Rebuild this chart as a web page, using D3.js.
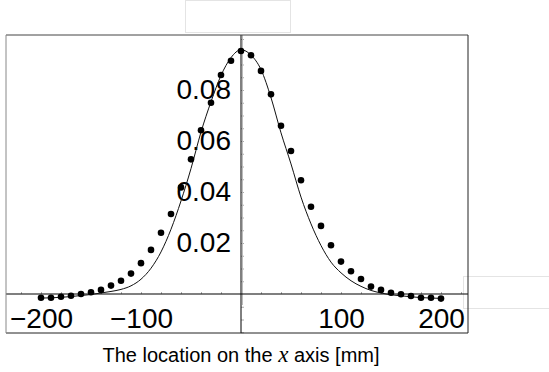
<!DOCTYPE html>
<html>
<head>
<meta charset="utf-8">
<script src="https://cdn.jsdelivr.net/npm/d3@7"></script>
<style>
  body { margin: 0; background: #fff; }
  svg { display: block; font-family: "Liberation Sans", Arial, sans-serif; }
</style>
</head>
<body>
<svg id="chart" width="549" height="372"></svg>
<script>
// location on the x axis [mm], one sample every 10 mm
var positions = [-200, -190, -180, -170, -160, -150, -140, -130, -120, -110,
                 -100, -90, -80, -70, -60, -50, -40, -30, -20, -10,
                 0, 10, 20, 30, 40, 50, 60, 70, 80, 90,
                 100, 110, 120, 130, 140, 150, 160, 170, 180, 190, 200]

// measured points (dots)
var measured = [-0.00145, -0.00145, -0.0011, -0.0007, 0.0, 0.0007, 0.0016, 0.0033, 0.0052, 0.0080,
                0.0121, 0.0173, 0.0240, 0.0314, 0.0418, 0.0528, 0.0642, 0.0750, 0.0859, 0.0915,
                0.0953, 0.0936, 0.0875, 0.0783, 0.0660, 0.0561, 0.0446, 0.0342, 0.0267, 0.0191,
                0.0127, 0.0089, 0.0059, 0.0029, 0.0016, 0.0005, -0.0001, -0.0008, -0.00145, -0.00145,
                -0.0018]

// fitted curve (solid line), read at the same positions
var fitted = [-0.0016, -0.0015, -0.0013, -0.0010, -0.0006, -0.0002, 0.0004, 0.0010, 0.0018, 0.0032,
              0.0058, 0.0101, 0.0165, 0.0254, 0.0365, 0.0492, 0.0635, 0.0754, 0.0857, 0.0927,
              0.0958, 0.0937, 0.0880, 0.0770, 0.0632, 0.0510, 0.0380, 0.0275, 0.0190, 0.0125,
              0.0083, 0.0052, 0.0030, 0.0014, 0.0004, -0.0003, -0.0007, -0.0011, -0.0014, -0.0016,
              -0.0017]

var xLabels = [-200, -100, 100, 200]
var yLabels = [0.02, 0.04, 0.06, 0.08]
var xMinor = [-220, -200, -180, -160, -140, -120, -100, -80, -60, -40, -20,
              20, 40, 60, 80, 100, 120, 140, 160, 180, 200, 220]
var yMinor = [-0.015, -0.01, -0.005, 0.005, 0.01, 0.015, 0.02, 0.025, 0.03, 0.035, 0.04, 0.045,
              0.05, 0.055, 0.06, 0.065, 0.07, 0.075, 0.08, 0.085, 0.09, 0.095, 0.1]

var axisTitle = 'The location on the '
var axisTitleVar = 'x'
var axisTitleEnd = ' axis [mm]'

var svg = d3.select('#chart')

var frame = { left: 6, right: 468, top: 35, bottom: 333 }

var x = d3.scaleLinear().domain([-235, 227]).range([frame.left, frame.right])
var y = d3.scaleLinear().domain([0, 0.1]).range([294, 39])

// faint empty boxes around the plot
svg.append('rect').attr('x', 185.5).attr('y', 0.5).attr('width', 105).attr('height', 32)
  .attr('fill', 'none').attr('stroke', '#e4e4e4')
svg.append('rect').attr('x', 463.5).attr('y', 276.5).attr('width', 90).attr('height', 32)
  .attr('fill', 'none').attr('stroke', '#e4e4e4')

svg.append('clipPath').attr('id', 'clip').append('rect')
  .attr('x', frame.left).attr('y', frame.top)
  .attr('width', frame.right - frame.left).attr('height', frame.bottom - frame.top)

// minor ticks
svg.append('g').attr('transform', 'translate(0,' + y(0) + ')')
  .call(d3.axisTop(x).tickValues(xMinor).tickSize(2).tickFormat(''))
  .call(function (g) { g.select('.domain').remove() })
  .selectAll('line').attr('stroke', '#aaa')

svg.append('g').attr('transform', 'translate(' + x(0) + ',0)')
  .call(d3.axisRight(y).tickValues(yMinor).tickSize(3).tickFormat(''))
  .call(function (g) { g.select('.domain').remove() })
  .selectAll('line').attr('stroke', '#aaa')

// axis lines
svg.append('line').attr('x1', x(0) + 1.5).attr('x2', x(0) + 1.5)
  .attr('y1', frame.top).attr('y2', 305).attr('stroke', '#bbb').attr('stroke-width', 1)
svg.append('line').attr('x1', x(0)).attr('x2', x(0))
  .attr('y1', frame.top).attr('y2', frame.bottom).attr('stroke', '#000').attr('stroke-width', 1)
svg.append('line').attr('x1', frame.left).attr('x2', frame.right)
  .attr('y1', y(0)).attr('y2', y(0)).attr('stroke', '#000').attr('stroke-width', 1.2)

// tick labels
svg.append('g').attr('transform', 'translate(0,' + y(0) + ')')
  .call(d3.axisBottom(x).tickValues(xLabels).tickSize(0).tickPadding(14)
    .tickFormat(function (d) { return d < 0 ? '\u2212' + Math.abs(d) : String(d) }))
  .call(function (g) { g.select('.domain').remove() })
  .selectAll('text')
    .attr('font-size', 28).attr('fill', '#000')
    .attr('font-family', '"Liberation Sans", Arial, sans-serif')

svg.append('g').attr('transform', 'translate(' + x(0) + ',0)')
  .call(d3.axisLeft(y).tickValues(yLabels).tickSize(0).tickPadding(10)
    .tickFormat(d3.format('.2f')))
  .call(function (g) { g.select('.domain').remove() })
  .selectAll('text')
    .attr('font-size', 28).attr('fill', '#000')
    .attr('font-family', '"Liberation Sans", Arial, sans-serif')

var plot = svg.append('g').attr('clip-path', 'url(#clip)')

var line = d3.line()
  .x(function (d, i) { return x(positions[i]) })
  .y(function (d) { return y(d) })
  .curve(d3.curveMonotoneX)

plot.append('path').datum(fitted)
  .attr('d', line).attr('fill', 'none').attr('stroke', '#111').attr('stroke-width', 1)

plot.selectAll('circle').data(measured).enter().append('circle')
  .attr('cx', function (d, i) { return x(positions[i]) })
  .attr('cy', function (d) { return y(d) })
  .attr('r', 3.3).attr('fill', '#000')

// frame
svg.append('line').attr('x1', frame.left).attr('x2', frame.right)
  .attr('y1', frame.top).attr('y2', frame.top).attr('stroke', '#444')
svg.append('line').attr('x1', frame.left).attr('x2', frame.right)
  .attr('y1', frame.bottom).attr('y2', frame.bottom).attr('stroke', '#222')
svg.append('line').attr('x1', frame.left).attr('x2', frame.left)
  .attr('y1', frame.top).attr('y2', frame.bottom).attr('stroke', '#888')
svg.append('line').attr('x1', frame.right).attr('x2', frame.right)
  .attr('y1', frame.top).attr('y2', frame.bottom).attr('stroke', '#222')

// axis title
var title = svg.append('text').attr('x', x(0)).attr('y', 362)
  .attr('text-anchor', 'middle').attr('font-size', 20).attr('fill', '#000')
title.append('tspan').text(axisTitle)
title.append('tspan').text(axisTitleVar)
  .attr('font-family', '"Liberation Serif", "Times New Roman", serif')
  .attr('font-style', 'italic').attr('font-size', 23)
title.append('tspan').text(axisTitleEnd)
</script>
</body>
</html>
